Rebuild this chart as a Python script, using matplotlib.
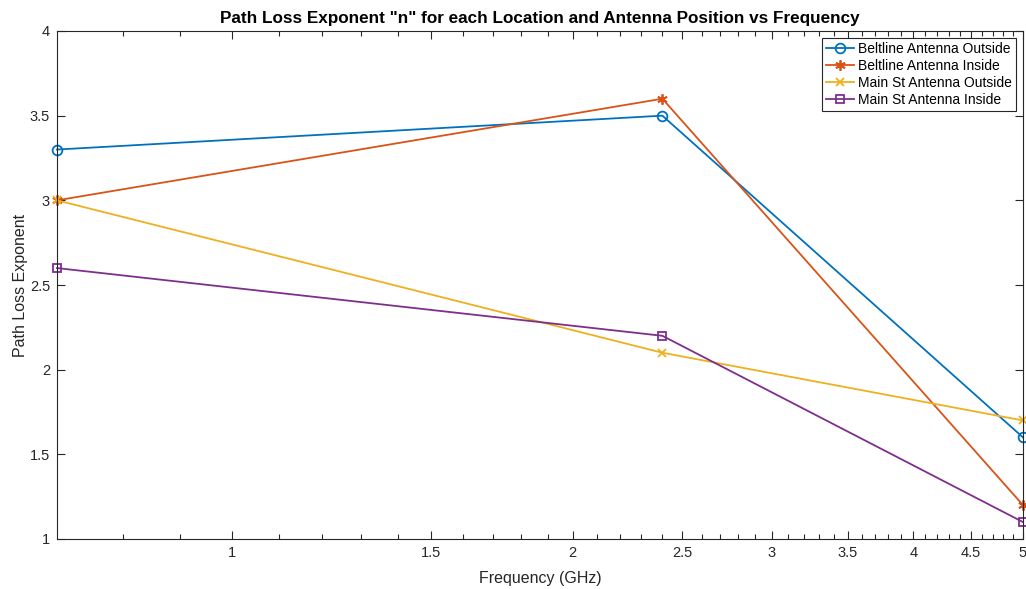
import numpy as np
import matplotlib
matplotlib.use('Agg')
import matplotlib.pyplot as plt
from matplotlib.ticker import FixedLocator, FixedFormatter, NullFormatter

# -------------------------- 数据 --------------------------
freq = [0.7, 2.4, 5.0]
beltline_outside = [3.3, 3.5, 1.6]
beltline_inside = [3.0, 3.6, 1.2]
mainst_outside = [3.0, 2.1, 1.7]
mainst_inside = [2.6, 2.2, 1.1]

x_major = [1, 1.5, 2, 2.5, 3, 3.5, 4, 4.5, 5]
x_major_labels = ['1', '1.5', '2', '2.5', '3', '3.5', '4', '4.5', '5']
x_minor = [0.8, 0.9] + [round(v, 1) for v in np.arange(1.1, 5.0, 0.1)]
y_ticks = [1, 1.5, 2, 2.5, 3, 3.5, 4]
y_labels = ['1', '1.5', '2', '2.5', '3', '3.5', '4']

# -------------------------- 样式 --------------------------
plt.rcParams['font.family'] = ['Liberation Sans', 'DejaVu Sans']
fig = plt.figure(figsize=(10.26, 5.89), dpi=100)
ax = fig.add_axes([57 / 1026, 50 / 589, 966 / 1026, 508 / 589])

series = [
    (beltline_outside, '#0072BD', 'o', 7, 'Beltline Antenna Outside'),
    (beltline_inside, '#D95319', (6, 2, 0), 7.5, 'Beltline Antenna Inside'),
    (mainst_outside, '#EDB120', 'x', 6, 'Main St Antenna Outside'),
    (mainst_inside, '#7E2F8E', 's', 6, 'Main St Antenna Inside'),
]
for vals, c, m, ms, lab in series:
    ax.plot(freq, vals, color=c, marker=m, markersize=ms, linewidth=1.3,
            markerfacecolor='none', markeredgecolor=c, markeredgewidth=1.3,
            label=lab, clip_on=False)

ax.set_xscale('log')
ax.set_xlim(0.7, 5)
ax.set_ylim(1, 4)
ax.xaxis.set_major_locator(FixedLocator(x_major))
ax.xaxis.set_major_formatter(FixedFormatter(x_major_labels))
ax.xaxis.set_minor_locator(FixedLocator(x_minor))
ax.xaxis.set_minor_formatter(NullFormatter())
ax.set_yticks(y_ticks)
ax.set_yticklabels(y_labels)

ax.tick_params(which='both', direction='in', top=True, right=True,
               labelsize=10.5, colors='#262626', width=0.8)
ax.tick_params(which='major', length=6)
ax.tick_params(which='minor', length=3.5)
ax.tick_params(axis='x', pad=5)
ax.tick_params(axis='y', pad=5)
for s in ax.spines.values():
    s.set_color('#262626')
    s.set_linewidth(0.8)

ax.set_xlabel('Frequency (GHz)', fontsize=11.5, color='#262626', labelpad=8)
ax.set_ylabel('Path Loss Exponent', fontsize=11.5, color='#262626', labelpad=1)
ax.set_title('Path Loss Exponent "n" for each Location and Antenna Position vs Frequency',
             fontsize=12.3, fontweight='bold', pad=6)

leg = ax.legend(loc='upper right', fontsize=10, fancybox=False, framealpha=1,
                edgecolor='#262626', borderpad=0.3, labelspacing=0.22,
                handlelength=2.0, handletextpad=0.3, borderaxespad=0.5)
leg.get_frame().set_linewidth(0.8)

fig.savefig('out.png', dpi=100, facecolor='white')
